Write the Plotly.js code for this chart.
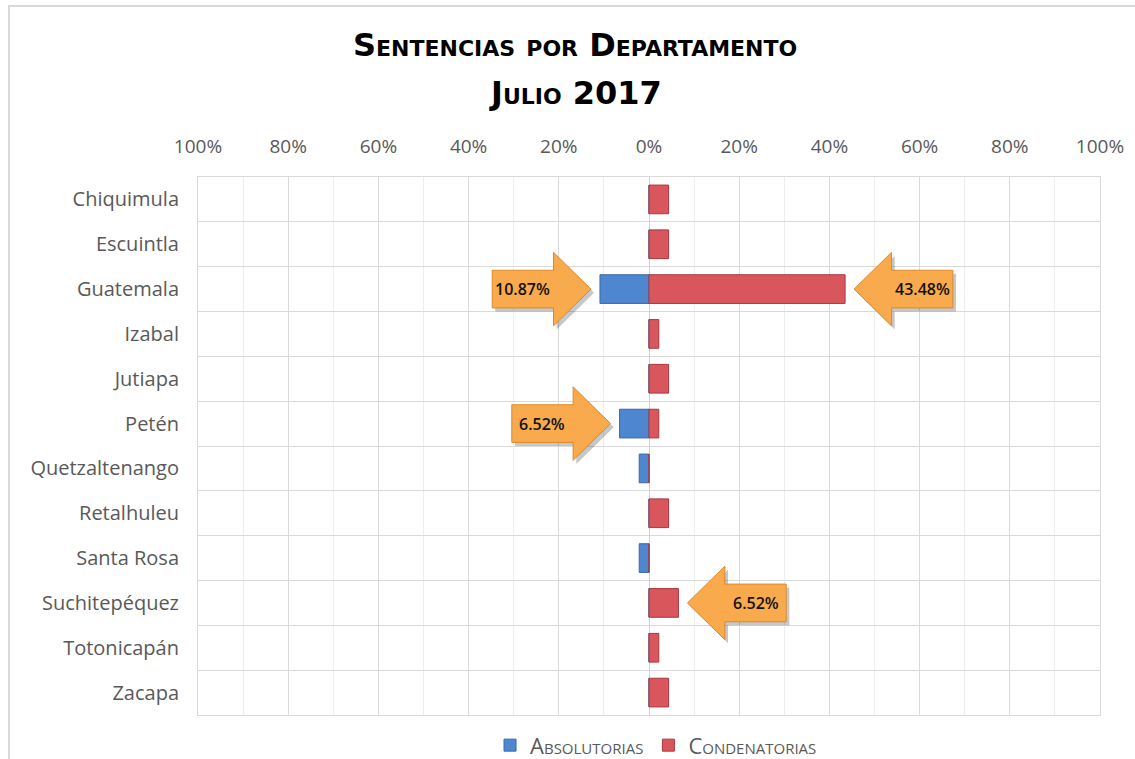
<!DOCTYPE html>
<html>
<head>
<meta charset="utf-8">
<script src="https://cdn.plot.ly/plotly-3.0.1.min.js"></script>
<style>
  html, body { margin: 0; padding: 0; background: #ffffff; }
  #wrap { position: relative; width: 1135px; height: 759px; overflow: hidden; }
  #chart { width: 1135px; height: 759px; }
  #frame { position: absolute; left: 8px; top: 5px; width: 1140px; height: 770px;
           border-left: 2px solid #D9D9D9; border-top: 2px solid #D9D9D9; pointer-events: none; }
</style>
</head>
<body>
<div id="wrap">
  <div id="chart"></div>
  <div id="frame"></div>
</div>
<script>
// ---- data ----
var titleLines = ["Sentencias por Departamento", "Julio 2017"];
var departamentos = ["Chiquimula","Escuintla","Guatemala","Izabal","Jutiapa","Petén",
  "Quetzaltenango","Retalhuleu","Santa Rosa","Suchitepéquez","Totonicapán","Zacapa"];
var absolutorias  = [0, 0, 10.87, 0, 0, 6.52, 2.17, 0, 2.17, 0, 0, 0];
var condenatorias = [4.35, 4.35, 43.48, 2.17, 4.35, 2.17, 0, 4.35, 0, 6.52, 2.17, 4.35];
var tickVals   = [-100, -80, -60, -40, -20, 0, 20, 40, 60, 80, 100];
var tickLabels = ["100%","80%","60%","40%","20%","0%","20%","40%","60%","80%","100%"];
// callouts: category, series ("abs" drawn on the left, "cond" on the right)
var calloutCats   = ["Guatemala", "Guatemala", "Petén", "Suchitepéquez"];
var calloutSeries = ["abs", "cond", "abs", "cond"];

var blue = '#4F86D0', blueLine = '#3A68AA';
var red = '#D9565D', redLine = '#A8383E';

var traces = [
  {
    type: 'bar', orientation: 'h', name: 'Absolutorias',
    y: departamentos, x: absolutorias.map(function(v){ return -v; }),
    marker: { color: blue, line: { color: blueLine, width: 1 } },
    width: 0.64, hoverinfo: 'y+text', text: absolutorias.map(function(v){return v.toFixed(2)+'%';}),
    textposition: 'none'
  },
  {
    type: 'bar', orientation: 'h', name: 'Condenatorias',
    y: departamentos, x: condenatorias,
    marker: { color: red, line: { color: redLine, width: 1 } },
    width: 0.64, hoverinfo: 'y+text', text: condenatorias.map(function(v){return v.toFixed(2)+'%';}),
    textposition: 'none'
  }
];

// build arrow callouts from the data values
var shapes = [], annotations = [];
var gap = 2, headLen = 8.3, bodyLen = 13.6, bodyH = 0.42, headH = 0.82;
calloutCats.forEach(function(cat, k) {
  var i = departamentos.indexOf(cat);
  var isAbs = calloutSeries[k] === 'abs';
  var v = isAbs ? absolutorias[i] : condenatorias[i];
  var dir = isAbs ? -1 : 1;
  var tip = dir * (v + gap);
  var base = tip + dir * headLen;
  var end = base + dir * bodyLen;
  function pathFor(dx, dy) {
    var pts = [[tip, i], [base, i - headH], [base, i - bodyH], [end, i - bodyH],
               [end, i + bodyH], [base, i + bodyH], [base, i + headH]];
    return 'M' + pts.map(function(p){ return (p[0]+dx) + ',' + (p[1]+dy); }).join(' L') + ' Z';
  }
  shapes.push({ type: 'path', xref: 'x', yref: 'y', path: pathFor(0.7, 0.08),
    fillcolor: 'rgba(0,0,0,0.22)', line: { width: 0 }, layer: 'above' });
  shapes.push({ type: 'path', xref: 'x', yref: 'y', path: pathFor(0, 0),
    fillcolor: '#F8AA4C', line: { color: '#DB8A2A', width: 1 }, layer: 'above' });
  annotations.push({ xref: 'x', yref: 'y', x: (base + end) / 2, y: i,
    text: v.toFixed(2) + '%', showarrow: false,
    font: { family: 'Open Sans, sans-serif', size: 16, color: '#111111', weight: 600 } });
});

// title lines as annotations, placed relative to the plot area
var titleYpx = [45, 93];
titleLines.forEach(function(t, k) {
  annotations.push({ xref: 'paper', yref: 'paper', x: (575 - 198) / 902, y: 1 + (177 - titleYpx[k]) / 538,
    xanchor: 'center', yanchor: 'middle', showarrow: false, text: t,
    font: { family: 'DejaVu Sans, sans-serif', size: 32, color: '#000000', weight: 700, variant: 'small-caps' } });
});

var layout = {
  width: 1135, height: 759,
  paper_bgcolor: '#ffffff', plot_bgcolor: '#ffffff',
  margin: { l: 198, r: 35, t: 177, b: 44, autoexpand: false },
  barmode: 'relative',
  bargap: 0.36,
  xaxis: {
    side: 'top', range: [-100, 100], fixedrange: true,
    tickmode: 'array', tickvals: tickVals, ticktext: tickLabels,
    ticks: '', ticklabelstandoff: 15,
    tickfont: { family: 'Open Sans, sans-serif', size: 19, color: '#595959' },
    showgrid: true, gridcolor: '#D9D9D9', gridwidth: 1,
    minor: { dtick: 10, tick0: 0, showgrid: true, gridcolor: '#EEEEEE', gridwidth: 1, ticks: '' },
    zeroline: true, zerolinecolor: '#D0D0D0', zerolinewidth: 1,
    showline: true, mirror: true, linecolor: '#D9D9D9', linewidth: 1
  },
  yaxis: {
    type: 'category', categoryorder: 'array', categoryarray: departamentos,
    range: [departamentos.length - 0.5, -0.5], fixedrange: true,
    tickson: 'boundaries', ticks: '', ticklabelstandoff: 14,
    tickfont: { family: 'Open Sans, sans-serif', size: 20, color: '#595959' },
    showgrid: true, gridcolor: '#D9D9D9', gridwidth: 1,
    showline: true, mirror: true, linecolor: '#D9D9D9', linewidth: 1
  },
  legend: {
    orientation: 'h', x: 0.578, xref: 'container', xanchor: 'center',
    y: 0.018, yref: 'container', yanchor: 'middle',
    font: { family: 'Open Sans, sans-serif', size: 22, color: '#595959', variant: 'small-caps' },
    itemwidth: 30, traceorder: 'normal'
  },
  shapes: shapes,
  annotations: annotations,
  showlegend: true
};

Plotly.newPlot('chart', traces, layout, { displayModeBar: false, staticPlot: true });
</script>
</body>
</html>
